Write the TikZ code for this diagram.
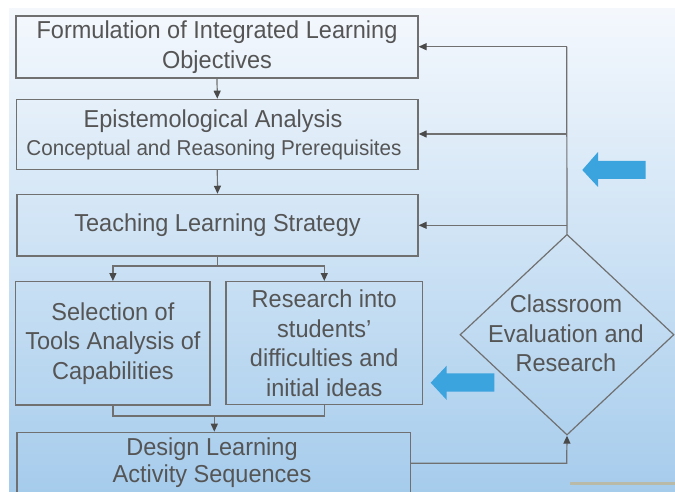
\documentclass[tikz,border=0pt]{standalone}
\usepackage{fontspec}
\setmainfont[FakeStretch=0.96]{Liberation Sans}
\usetikzlibrary{arrows.meta,shapes.geometric}
\definecolor{txt}{HTML}{555555}
\definecolor{ln}{HTML}{707070}
\definecolor{ah}{HTML}{4A4A4A}
\definecolor{bgtop}{HTML}{F4F8FD}
\definecolor{bgbot}{HTML}{A6CCEC}
\definecolor{blu}{HTML}{3BA3DD}
\definecolor{tanline}{HTML}{B9BAA8}
\begin{document}
\begin{tikzpicture}[x=1pt,y=-1pt,
  box/.style={draw=ln,line width=1.2pt,rectangle,inner sep=0pt,align=center,text=txt,font=\fontsize{24.5}{29.5}\selectfont},
  lbl/.style={inner sep=0pt,align=center,text=txt,font=\fontsize{24.5}{29.5}\selectfont},
  conn/.style={draw=ln,line width=1.2pt},
  arr/.style={conn,-{Triangle[length=8pt,width=7pt,color=ah]}},
]
\clip (0,0) rectangle (675,492);
\fill[white] (0,0) rectangle (675,492);
\shade[top color=bgtop,bottom color=bgbot] (9,9) rectangle (675,492);

\node[box,minimum width=402pt,minimum height=62pt] (b1) at (217,47) {Formulation of Integrated Learning\\Objectives};
\node[box,minimum width=401.5pt,minimum height=70pt] (b2) at (217.3,134.3) {};
\node[lbl] (t2) at (213,121) {Epistemological Analysis};
\node[lbl,font=\fontsize{21.5}{25}\selectfont] (t2b) at (214,150) {Conceptual and Reasoning Prerequisites};
\node[box,minimum width=401pt,minimum height=61.7pt] (b3) at (217.5,225.2) {Teaching Learning Strategy};
\node[box,minimum width=194.3pt,minimum height=123.3pt] (b4) at (112.9,343.3) {Selection of\\Tools Analysis of\\Capabilities};
\node[box,minimum width=196.5pt,minimum height=123pt] (b5) at (324.3,343.1) {Research into\\students’\\difficulties and\\initial ideas};
\node[box,minimum width=393.5pt,minimum height=87.7pt] (b6) at (213.75,476.15) {};
\node[lbl,font=\fontsize{24.5}{27.5}\selectfont] (t6) at (212,462.5) {Design Learning\\Activity Sequences};

\node[draw=ln,line width=1.2pt,diamond,inner sep=0pt,minimum width=214pt,minimum height=200.7pt] (d) at (567,334.7) {};
\node[lbl] (dt) at (566,333.5) {Classroom\\Evaluation and\\Research};

\draw[arr] (b1.south) -- (b2.north);
\draw[arr] (b2.south) -- (b3.north);
\coordinate (sp) at (217.5,266);
\draw[arr] (b3.south) -- (sp) -| (b4.north);
\draw[arr] (sp) -| (b5.north);
\coordinate (mg) at (214.3,416);
\draw[conn] (b4.south) |- (mg);
\draw[conn] (b5.south) |- (mg);
\draw[arr] (mg) -- (mg |- b6.north);

\coordinate (fb) at (566.7,463.3);
\draw[arr] (b6.east |- fb) -- (fb) -- (d.south);

\coordinate (tp) at (566.7,46.7);
\coordinate (tq) at (566.7,134);
\coordinate (tr) at (566.7,225.3);
\draw[conn] (d.north) -- (tp);
\draw[arr] (tp) -- (tp -| b1.east);
\draw[arr] (tq) -- (tq -| b2.east);
\draw[arr] (tr) -- (tr -| b3.east);

\fill[blu] (645.7,161) -- (598,161) -- (598,152) -- (582.3,170) -- (598,187) -- (598,179) -- (645.7,179) -- cycle;
\fill[blu] (494.3,373.3) -- (446.7,373.3) -- (446.7,365.7) -- (430.7,382.7) -- (446.7,400) -- (446.7,391.7) -- (494.3,391.7) -- cycle;

\draw[tanline,line width=2.5pt] (570,483.5) -- (675,483.5);
\end{tikzpicture}
\end{document}
